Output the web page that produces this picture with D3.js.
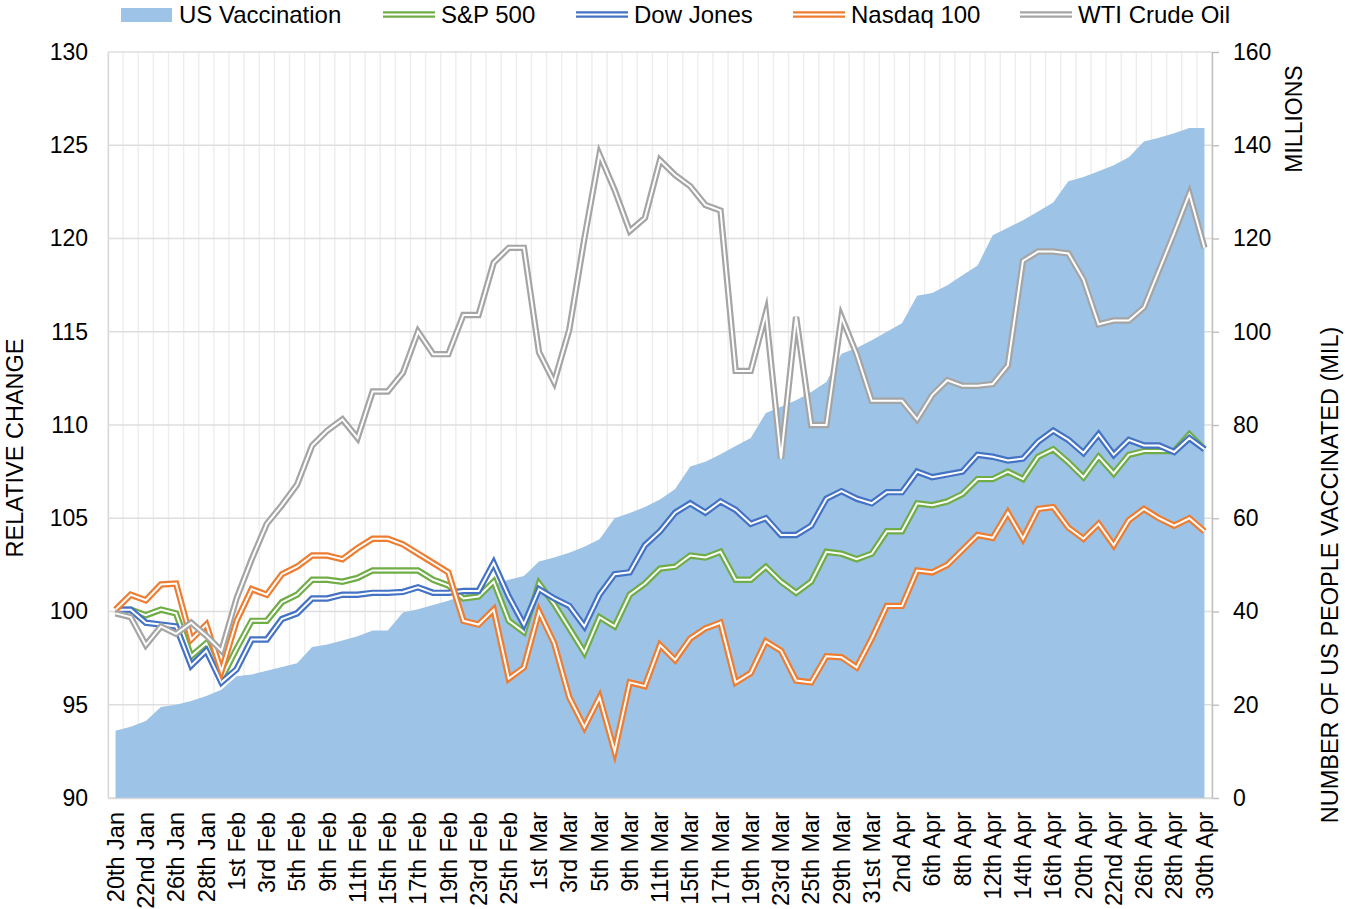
<!DOCTYPE html>
<html>
<head>
<meta charset="utf-8">
<script src="https://cdn.jsdelivr.net/npm/d3@7"></script>
<style>
  html, body { margin: 0; padding: 0; background: #ffffff; }
  svg { display: block; font-family: "Liberation Sans", Arial, sans-serif; }
</style>
</head>
<body>
<svg id="chart" width="1345" height="909"></svg>
<script>
// ---------------- DATA ----------------
const categories = [
  "20th Jan","21st Jan","22nd Jan","25th Jan","26th Jan","27th Jan","28th Jan","29th Jan",
  "1st Feb","2nd Feb","3rd Feb","4th Feb","5th Feb","8th Feb","9th Feb","10th Feb","11th Feb","12th Feb",
  "15th Feb","16th Feb","17th Feb","18th Feb","19th Feb","22nd Feb","23rd Feb","24th Feb","25th Feb","26th Feb",
  "1st Mar","2nd Mar","3rd Mar","4th Mar","5th Mar","8th Mar","9th Mar","10th Mar","11th Mar","12th Mar",
  "15th Mar","16th Mar","17th Mar","18th Mar","19th Mar","22nd Mar","23rd Mar","24th Mar","25th Mar","26th Mar",
  "29th Mar","30th Mar","31st Mar","1st Apr","2nd Apr","5th Apr","6th Apr","7th Apr","8th Apr","9th Apr",
  "12th Apr","13th Apr","14th Apr","15th Apr","16th Apr","19th Apr","20th Apr","21st Apr","22nd Apr","23rd Apr",
  "26th Apr","27th Apr","28th Apr","29th Apr","30th Apr"
];

// US people vaccinated (millions) - right axis
const vaccination = [
  14.4, 15.3, 16.5, 19.5, 20.0, 20.8, 21.9, 23.2,
  26.1, 26.5, 27.3, 28.1, 28.9, 32.4, 32.9, 33.8, 34.7, 35.9,
  35.9, 39.8, 40.5, 41.4, 42.3, 43.5, 44.7, 45.8, 46.8, 47.6,
  50.7, 51.6, 52.6, 53.9, 55.5, 60.0, 61.1, 62.4, 64.0, 66.3,
  71.1, 72.1, 73.7, 75.5, 77.2, 82.6, 83.9, 85.3, 87.1, 89.2,
  95.3, 96.5, 98.2, 100.0, 101.8, 107.7, 108.3, 110.0, 112.1, 114.2,
  120.7, 122.3, 123.9, 125.8, 127.7, 132.3, 133.2, 134.4, 135.7, 137.4,
  140.8, 141.6, 142.6, 143.7, 143.7
];

const sp500 = [
  100.1, 100.1, 99.8, 100.1, 99.9, 97.6, 98.3, 96.4,
  98.0, 99.5, 99.5, 100.5, 100.9, 101.7, 101.7, 101.6, 101.8, 102.2,
  102.2, 102.2, 102.2, 101.7, 101.4, 100.7, 100.8, 101.6, 99.5, 98.9,
  101.5, 100.4, 99.1, 97.8, 99.7, 99.2, 100.9, 101.5, 102.3, 102.4,
  103.0, 102.9, 103.2, 101.7, 101.7, 102.4, 101.6, 101.0, 101.6, 103.2,
  103.1, 102.8, 103.1, 104.3, 104.3, 105.8, 105.7, 105.9, 106.3, 107.1,
  107.1, 107.5, 107.1, 108.3, 108.7, 108.0, 107.2, 108.3, 107.4, 108.4,
  108.6, 108.6, 108.6, 109.5, 108.7
];

const dowJones = [
  100.1, 100.1, 99.4, 99.3, 99.2, 97.1, 97.9, 96.2,
  96.9, 98.5, 98.5, 99.6, 99.9, 100.7, 100.7, 100.9, 100.9, 101.0,
  101.0, 101.05, 101.3, 101.0, 101.0, 101.1, 101.1, 102.6, 100.8, 99.3,
  101.2, 100.7, 100.3, 99.2, 100.9, 102.0, 102.1, 103.55, 104.3, 105.3,
  105.8, 105.3, 105.9, 105.45, 104.7, 105.0, 104.1, 104.1, 104.6, 106.05,
  106.45, 106.05, 105.8, 106.4, 106.4, 107.5, 107.2, 107.35, 107.5, 108.4,
  108.3, 108.1, 108.2, 109.1, 109.7, 109.2, 108.5, 109.5, 108.4, 109.2,
  108.9, 108.9, 108.55, 109.3, 108.7
];

const nasdaq100 = [
  100.1, 100.9, 100.6, 101.45, 101.5, 98.5, 99.3, 96.8,
  99.5, 101.2, 100.9, 102.0, 102.4, 103.0, 103.0, 102.8, 103.4, 103.9,
  103.9, 103.6, 103.1, 102.6, 102.1, 99.5, 99.3, 100.1, 96.4, 97.0,
  100.0, 98.3, 95.4, 93.8, 95.4, 92.5, 96.2, 96.0, 98.2, 97.4,
  98.55, 99.1, 99.4, 96.2, 96.7, 98.4, 97.9, 96.3, 96.2, 97.6,
  97.55, 97.0, 98.55, 100.3, 100.3, 102.2, 102.1, 102.5, 103.3, 104.1,
  103.95, 105.3, 103.9, 105.5, 105.6, 104.5, 103.9, 104.7, 103.55, 104.9,
  105.5, 105.0, 104.6, 105.0, 104.3
];

const wtiCrude = [
  99.9, 99.7, 98.2, 99.2, 98.8, 99.4, 98.7, 97.9,
  100.7, 102.8, 104.7, 105.7, 106.8, 108.9, 109.7, 110.3, 109.3, 111.8,
  111.8, 112.8, 115.0, 113.8, 113.8, 115.9, 115.9, 118.7, 119.5, 119.5,
  113.9, 112.3, 115.1, 120.0, 124.5, 122.6, 120.4, 121.1, 124.2, 123.4,
  122.8, 121.8, 121.5, 112.9, 112.9, 116.0, 108.2, 115.8, 110.0, 110.0,
  115.8, 113.8, 111.3, 111.3, 111.3, 110.3, 111.6, 112.4, 112.1, 112.1,
  112.2, 113.2, 118.8, 119.3, 119.3, 119.2, 117.8, 115.4, 115.6, 115.6,
  116.3, 118.3, 120.3, 122.4, 119.5
];

const leftTicks = [90, 95, 100, 105, 110, 115, 120, 125, 130];
const rightTicks = [0, 20, 40, 60, 80, 100, 120, 140, 160];
const lineSeries = [
  { name: "S&P 500", values: sp500, color: "#70AD47" },
  { name: "Dow Jones", values: dowJones, color: "#4472C4" },
  { name: "Nasdaq 100", values: nasdaq100, color: "#ED7D31" },
  { name: "WTI Crude Oil", values: wtiCrude, color: "#A5A5A5" }
];
const areaColor = "#9DC3E6";

// ---------------- LAYOUT ----------------
const svg = d3.select("#chart");
const L = 108, R = 1212, T = 52, B = 798;

const x = d3.scaleBand().domain(categories).range([L, R]).padding(0);
const bw = x.bandwidth();
const cx = c => x(c) + bw / 2;
const yL = d3.scaleLinear().domain([90, 130]).range([B, T]);
const yR = d3.scaleLinear().domain([0, 160]).range([B, T]);

// gridlines
const grid = svg.append("g");
grid.selectAll("line.v").data(categories.concat(["__end"])).enter().append("line")
  .attr("x1", d => d === "__end" ? R : x(d)).attr("x2", d => d === "__end" ? R : x(d))
  .attr("y1", T).attr("y2", B)
  .attr("stroke", "#EDEDED").attr("stroke-width", 1.4);
grid.selectAll("line.h").data(leftTicks).enter().append("line")
  .attr("x1", L).attr("x2", R).attr("y1", d => yL(d)).attr("y2", d => yL(d))
  .attr("stroke", "#DEDEDE").attr("stroke-width", 1.4);

// area (vaccination)
const area = d3.area()
  .x((d, i) => cx(categories[i]))
  .y0(yR(0))
  .y1(d => yR(d));
svg.append("path").datum(vaccination).attr("d", area).attr("fill", areaColor);

// lines (double style)
const line = d3.line().x((d, i) => cx(categories[i])).y(d => yL(d));
lineSeries.forEach(s => {
  const g = svg.append("g");
  g.append("path").datum(s.values).attr("d", line)
    .attr("fill", "none").attr("stroke", s.color).attr("stroke-width", 6.4)
    .attr("stroke-linejoin", "miter").attr("stroke-miterlimit", 6);
  g.append("path").datum(s.values).attr("d", line)
    .attr("fill", "none").attr("stroke", "#ffffff").attr("stroke-width", 2.0)
    .attr("stroke-linejoin", "miter").attr("stroke-miterlimit", 6);
});

// axes
const axL = svg.append("g").attr("transform", `translate(${L},0)`)
  .call(d3.axisLeft(yL).tickValues(leftTicks).tickSize(0).tickPadding(20));
axL.select(".domain").attr("stroke", "#D9D9D9").attr("stroke-width", 1.4);
axL.selectAll("text").attr("font-size", 23).attr("fill", "#000").attr("font-family", "Liberation Sans, Arial, sans-serif");

const axR = svg.append("g").attr("transform", `translate(${R},0)`)
  .call(d3.axisRight(yR).tickValues(rightTicks).tickSize(7).tickSizeOuter(0).tickPadding(14));
axR.select(".domain").attr("stroke", "#BFBFBF").attr("stroke-width", 1.4);
axR.selectAll(".tick line").attr("stroke", "#BFBFBF").attr("stroke-width", 1.4);
axR.selectAll("text").attr("font-size", 23).attr("fill", "#000").attr("font-family", "Liberation Sans, Arial, sans-serif");

const axB = svg.append("g").attr("transform", `translate(0,${B})`)
  .call(d3.axisBottom(x).tickValues(categories.filter((c, i) => i % 2 === 0)).tickSize(0).tickSizeOuter(0));
axB.select(".domain").attr("stroke", "#D9D9D9").attr("stroke-width", 1.4);
axB.selectAll("text")
  .attr("transform", "rotate(-90)")
  .attr("x", -14).attr("y", 0).attr("dy", "0.35em")
  .attr("text-anchor", "end")
  .attr("font-size", 23.5).attr("fill", "#000").attr("font-family", "Liberation Sans, Arial, sans-serif");

// axis titles
svg.append("text").attr("transform", "translate(15,448) rotate(-90)")
  .attr("text-anchor", "middle").attr("dy", "0.35em").attr("font-size", 23.5).text("RELATIVE CHANGE");
svg.append("text").attr("transform", "translate(1294,119) rotate(-90)")
  .attr("text-anchor", "middle").attr("dy", "0.35em").attr("font-size", 23).text("MILLIONS");
svg.append("text").attr("transform", "translate(1330,575) rotate(-90)")
  .attr("text-anchor", "middle").attr("dy", "0.35em").attr("font-size", 23.5).text("NUMBER OF US PEOPLE VACCINATED (MIL)");

// legend
const legendItems = [
  { name: "US Vaccination", color: areaColor, type: "area", sx: 121, tx: 179 },
  { name: "S&P 500", color: "#70AD47", type: "line", sx: 383, tx: 441 },
  { name: "Dow Jones", color: "#4472C4", type: "line", sx: 576, tx: 634 },
  { name: "Nasdaq 100", color: "#ED7D31", type: "line", sx: 793, tx: 851 },
  { name: "WTI Crude Oil", color: "#A5A5A5", type: "line", sx: 1020, tx: 1078 }
];
const lg = svg.append("g");
legendItems.forEach(it => {
  if (it.type === "area") {
    lg.append("rect").attr("x", it.sx).attr("y", 8).attr("width", 51).attr("height", 14).attr("fill", it.color);
  } else {
    lg.append("line").attr("x1", it.sx).attr("x2", it.sx + 52).attr("y1", 14.5).attr("y2", 14.5)
      .attr("stroke", it.color).attr("stroke-width", 6.4);
    lg.append("line").attr("x1", it.sx).attr("x2", it.sx + 52).attr("y1", 14.5).attr("y2", 14.5)
      .attr("stroke", "#fff").attr("stroke-width", 2);
  }
  lg.append("text").attr("x", it.tx).attr("y", 15).attr("dy", "0.35em")
    .attr("font-size", 24).attr("fill", "#000").text(it.name);
});
</script>
</body>
</html>
